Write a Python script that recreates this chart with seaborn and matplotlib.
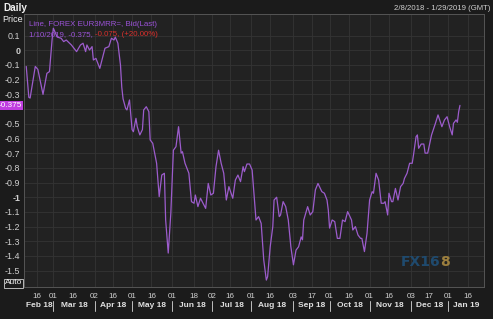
import numpy as np
import pandas as pd
import matplotlib
matplotlib.use("Agg")
import matplotlib.pyplot as plt
import matplotlib.dates as mdates
import matplotlib.transforms as mtransforms
import seaborn as sns

# ---------------- data ----------------
start_date = "2018-02-08"
# days since start_date of each observation
day_offsets = [0, 2, 3, 7, 9, 13, 16, 18, 20, 21, 24, 27, 29, 31, 35, 39, 42, 44, 46, 47,
               49, 51, 52, 54, 57, 59, 61, 64, 66, 68, 69, 71, 73, 74, 75, 77, 78, 80, 82, 83,
               85, 86, 88, 90, 91, 93, 95, 96, 98, 101, 103, 105, 107, 108, 110, 112, 114, 116, 118, 120,
               121, 123, 126, 128, 130, 131, 133, 135, 137, 139, 141, 143, 145, 147, 149, 151, 153, 155, 157, 160,
               162, 164, 166, 168, 169, 171, 173, 175, 178, 180, 182, 184, 186, 187, 189, 191, 192, 194, 196, 197,
               199, 201, 203, 205, 207, 209, 211, 213, 214, 215, 218, 220, 222, 224, 226, 229, 231, 233, 234, 235,
               237, 239, 241, 243, 245, 247, 249, 252, 253, 255, 257, 259, 260, 262, 264, 266, 268, 269, 271, 273,
               275, 277, 278, 280, 281, 283, 284, 286, 288, 290, 292, 293, 295, 297, 299, 300, 302, 303, 304, 306,
               308, 309, 311, 314, 317, 319, 322, 324, 326, 328, 330, 331, 333, 334, 335, 336]
rates = [-0.11, -0.32, -0.325, -0.11, -0.13, -0.30, -0.157, -0.145, 0.07, 0.15, 0.09, 0.082, 0.059, 0.07, 0.036, -0.009, 0.036, 0.048, -0.009, 0.036,
         0.002, 0.025, -0.066, -0.055, -0.123, -0.055, 0.014, 0.025, 0.082, 0.07, 0.09, 0.048, -0.10, -0.25, -0.33, -0.395, -0.406, -0.338, -0.54, -0.554,
         -0.463, -0.52, -0.576, -0.54, -0.406, -0.384, -0.418, -0.61, -0.633, -0.769, -0.996, -0.849, -0.837, -1.155, -1.38, -1.11, -0.68, -0.656, -0.52, -0.70,
         -0.69, -0.769, -0.837, -1.03, -1.041, -0.985, -1.064, -1.007, -1.041, -1.076, -0.906, -0.985, -0.973, -0.792, -0.68, -0.769, -0.837, -1.019, -0.928, -1.007,
         -0.883, -0.849, -0.894, -0.792, -0.826, -0.774, -0.774, -0.815, -1.155, -1.132, -1.178, -1.427, -1.564, -1.54, -1.337, -1.2, -1.019, -1.0, -1.132, -1.121,
         -1.03, -1.064, -1.155, -1.337, -1.46, -1.36, -1.337, -1.27, -1.29, -1.155, -1.064, -1.121, -1.098, -0.95, -0.906, -0.962, -0.973, -1.019, -1.087, -1.21,
         -1.155, -1.166, -1.28, -1.28, -1.155, -1.166, -1.098, -1.155, -1.223, -1.2, -1.257, -1.28, -1.28, -1.37, -1.246, -1.019, -0.962, -0.973, -0.837, -0.883,
         -1.041, -1.041, -1.03, -1.121, -0.973, -1.03, -1.03, -0.94, -1.019, -0.928, -0.906, -0.872, -0.837, -0.769, -0.769, -0.713, -0.588, -0.576, -0.667, -0.638,
         -0.638, -0.70, -0.70, -0.576, -0.497, -0.44, -0.52, -0.474, -0.452, -0.52, -0.576, -0.497, -0.474, -0.49, -0.418, -0.375]

x_tick_dates = ["2018-02-16", "2018-03-01", "2018-03-16", "2018-04-02", "2018-04-16", "2018-05-01",
                "2018-05-16", "2018-06-01", "2018-06-18", "2018-07-02", "2018-07-16", "2018-08-01",
                "2018-08-16", "2018-09-03", "2018-09-17", "2018-10-01", "2018-10-16", "2018-11-01",
                "2018-11-16", "2018-12-03", "2018-12-17", "2019-01-01", "2019-01-16"]
x_tick_labels = ["16", "01", "16", "02", "16", "01", "16", "01", "18", "02", "16", "01",
                 "16", "03", "17", "01", "16", "01", "16", "03", "17", "01", "16"]
month_labels = ["Feb 18", "Mar 18", "Apr 18", "May 18", "Jun 18", "Jul 18", "Aug 18",
                "Sep 18", "Oct 18", "Nov 18", "Dec 18", "Jan 19"]
month_starts = ["2018-03-01", "2018-04-02", "2018-05-01", "2018-06-01", "2018-07-02", "2018-08-01",
                "2018-09-03", "2018-10-01", "2018-11-01", "2018-12-03", "2019-01-01"]
y_ticks = [0.1, 0, -0.1, -0.2, -0.3, -0.4, -0.5, -0.6, -0.7, -0.8, -0.9, -1.0,
           -1.1, -1.2, -1.3, -1.4, -1.5]
y_tick_labels = ["0.1", "0", "-0.1", "-0.2", "-0.3", "", "-0.5", "-0.6", "-0.7", "-0.8", "-0.9", "-1",
                 "-1.1", "-1.2", "-1.3", "-1.4", "-1.5"]
last_value = -0.375
x_range = ["2018-02-06 12:00", "2019-01-28 15:00"]
y_range = [-1.611, 0.247]

# ---------------- styling ----------------
sns.set_theme(style="dark")
FONT = ["Liberation Sans", "DejaVu Sans"]
plt.rcParams["font.family"] = FONT

BG = "#1b1b1b"
PLOT_BG = "#222222"
GRID = "#343434"
TXT = "#d0d0d0"
LINE = "#9c5ccc"

df = pd.DataFrame({
    "date": pd.Timestamp(start_date) + pd.to_timedelta(day_offsets, unit="D"),
    "rate": rates,
})

fig = plt.figure(figsize=(4.93, 3.19), dpi=100, facecolor=BG)
ax = fig.add_axes([24.3 / 493, 1 - 287 / 319, (484 - 24.3) / 493, (287 - 14) / 319])
ax.set_facecolor(PLOT_BG)

sns.lineplot(data=df, x="date", y="rate", ax=ax, color=LINE, linewidth=0.9, zorder=5)

ax.set_xlim(pd.Timestamp(x_range[0]), pd.Timestamp(x_range[1]))
ax.set_ylim(*y_range)

tick_dt = pd.to_datetime(x_tick_dates)
ax.set_xticks(tick_dt)
ax.set_xticklabels(x_tick_labels)
ax.set_yticks(y_ticks)
ax.set_yticklabels(y_tick_labels)
for lbl in ax.get_yticklabels():
    if lbl.get_text() in ("0", "-1"):
        lbl.set_fontweight("bold")
        lbl.set_color("#ffffff")

ax.tick_params(axis="both", colors="#8a8a8a", labelcolor=TXT, labelsize=6.4,
               length=2, width=0.6, pad=1.0, direction="out")
ax.tick_params(axis="x", labelsize=5.8, pad=2.0)
ax.set_xlabel("")
ax.set_ylabel("")
ax.grid(True, color=GRID, linewidth=0.6)
for sp in ax.spines.values():
    sp.set_visible(True)
    sp.set_color("#555555")
    sp.set_linewidth(0.7)

# month labels and separators below the axis
trans = mtransforms.blended_transform_factory(ax.transData, ax.transAxes)
lo, hi = ax.get_xlim()
bounds = [lo] + [mdates.date2num(pd.Timestamp(d)) for d in month_starts] + [hi]
for i, m in enumerate(month_labels):
    ax.text((bounds[i] + bounds[i + 1]) / 2, -0.068, m, transform=trans, ha="center",
            va="center", fontsize=6.0, fontweight="bold", color="#e0e0e0", clip_on=False)
for b in bounds[1:-1]:
    ax.plot([b, b], [-0.05, -0.087], transform=trans, color="#bfbfbf", lw=0.7, clip_on=False)

# header texts
fig.text(3 / 493, 1 - 8 / 319, "Daily", ha="left", va="center", fontsize=7.2,
         fontweight="bold", color="#f0f0f0")
fig.text(23 / 493, 1 - 20 / 319, "Price", ha="right", va="center", fontsize=6.5,
         color="#f0f0f0")
fig.text(490 / 493, 1 - 8 / 319, "2/8/2018 - 1/29/2019 (GMT)", ha="right", va="center",
         fontsize=5.6, color=TXT)

# legend text inside the plot
ax.text(0.01, 0.962, "Line, FOREX EUR3MRR=, Bid(Last)", transform=ax.transAxes,
        ha="left", va="center", fontsize=5.7, color="#9a52d6", zorder=6)
t1 = ax.text(0.01, 0.926, "1/10/2019, -0.375, ", transform=ax.transAxes,
             ha="left", va="center", fontsize=5.7, color="#9a52d6", zorder=6)
fig.canvas.draw()
bb = t1.get_window_extent()
x1 = ax.transAxes.inverted().transform((bb.x1, bb.y0))[0]
ax.text(x1, 0.926, "-0.075, (+20.00%)", transform=ax.transAxes,
        ha="left", va="center", fontsize=5.7, color="#d8302c", zorder=6)

# last value tag on the y axis
ytrans = mtransforms.blended_transform_factory(ax.transAxes, ax.transData)
ax.text(-0.004, last_value, f"{last_value:g}", transform=ytrans, ha="right", va="center",
        fontsize=5.9, color="#ffffff", clip_on=False, zorder=10,
        bbox=dict(boxstyle="square,pad=0.12", facecolor="#c03ee0", edgecolor="none"))

# "Auto" box
fig.text(13.5 / 493, 1 - 283 / 319, "Auto", ha="center", va="center", fontsize=6,
         color="#f0f0f0",
         bbox=dict(boxstyle="square,pad=0.12", facecolor=BG, edgecolor="#d0d0d0", linewidth=0.6))

# watermark
wm = ax.text(0.818, 0.09, "FX16", transform=ax.transAxes, ha="left", va="center",
             fontsize=10, fontweight="bold", color="#1f4a6e", zorder=4,
             family=["DejaVu Sans"])
fig.canvas.draw()
wb = wm.get_window_extent()
wx = ax.transAxes.inverted().transform((wb.x1, wb.y0))[0]
ax.text(wx, 0.09, "8", transform=ax.transAxes, ha="left", va="center",
        fontsize=10, fontweight="bold", color="#9c7f3e", zorder=4, family=["DejaVu Sans"])

fig.savefig("out.png", dpi=100, facecolor=BG)
